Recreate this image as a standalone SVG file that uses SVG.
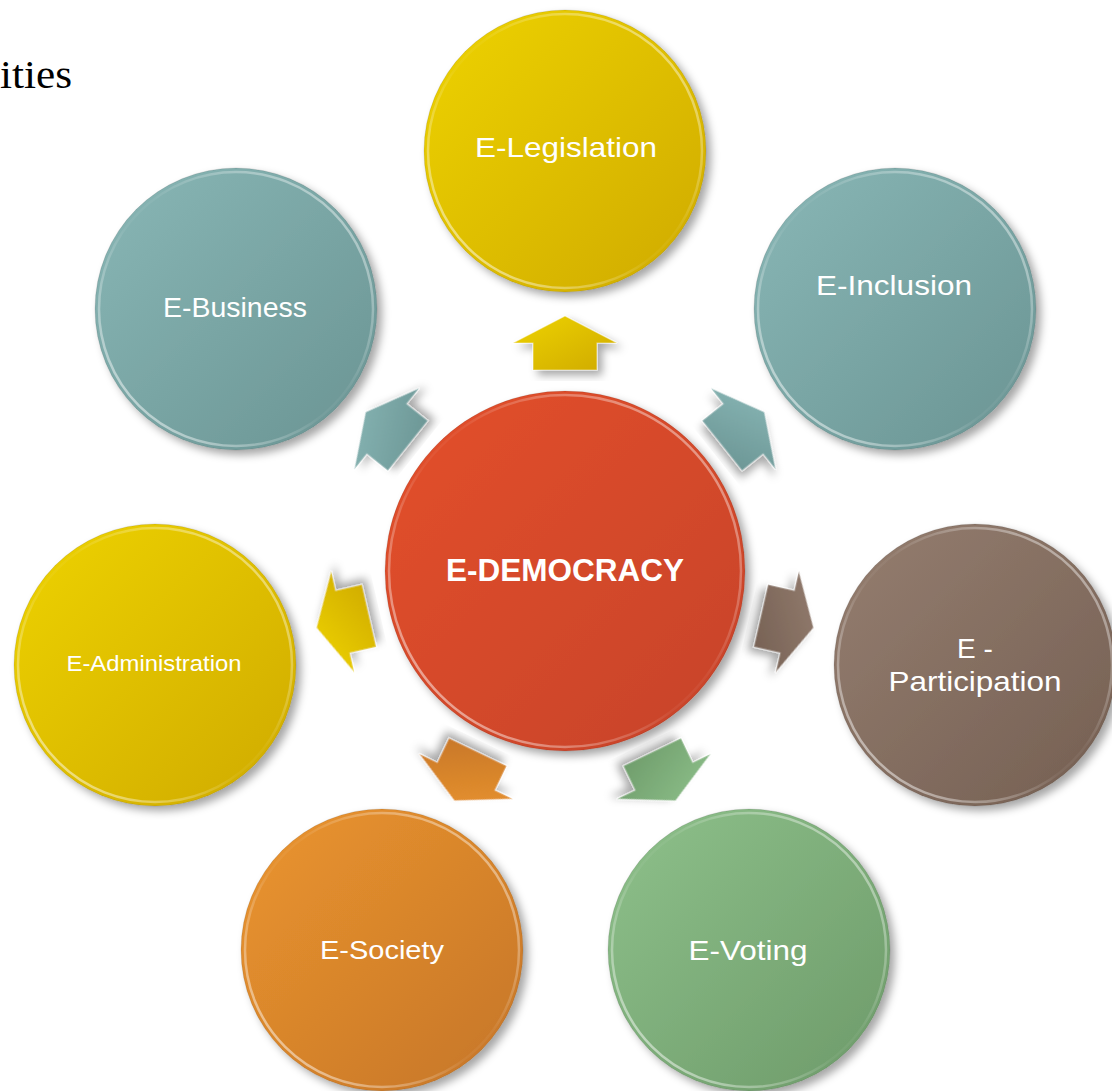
<svg xmlns="http://www.w3.org/2000/svg" width="1112" height="1091" viewBox="0 0 1112 1091">
<defs>
<linearGradient id="gY" x1="0" y1="0" x2="1" y2="1"><stop offset="0" stop-color="#eed300"/><stop offset="1" stop-color="#cfaa00"/></linearGradient>
<linearGradient id="gT" x1="0" y1="0" x2="1" y2="1"><stop offset="0" stop-color="#89b7b6"/><stop offset="1" stop-color="#6a9493"/></linearGradient>
<linearGradient id="gB" x1="0" y1="0" x2="1" y2="1"><stop offset="0" stop-color="#957e70"/><stop offset="1" stop-color="#745f52"/></linearGradient>
<linearGradient id="gO" x1="0" y1="0" x2="1" y2="1"><stop offset="0" stop-color="#eb952f"/><stop offset="1" stop-color="#c57528"/></linearGradient>
<linearGradient id="gG" x1="0" y1="0" x2="1" y2="1"><stop offset="0" stop-color="#8ec18b"/><stop offset="1" stop-color="#6d9a69"/></linearGradient>
<linearGradient id="gR" x1="0" y1="0" x2="1" y2="1"><stop offset="0" stop-color="#e4502c"/><stop offset="1" stop-color="#c64229"/></linearGradient>
<linearGradient id="rim" x1="0" y1="1" x2="1" y2="0"><stop offset="0" stop-color="#ffffff" stop-opacity="0.7"/><stop offset="0.45" stop-color="#ffffff" stop-opacity="0.05"/><stop offset="0.55" stop-color="#ffffff" stop-opacity="0.05"/><stop offset="1" stop-color="#ffffff" stop-opacity="0.6"/></linearGradient>
<filter id="sh" x="-20%" y="-20%" width="140%" height="140%"><feDropShadow dx="5" dy="5" stdDeviation="4" flood-color="#000" flood-opacity="0.35"/></filter>
</defs>
<style>
.lbl{font-family:"Liberation Sans",Arial,sans-serif;fill:#ffffff;text-anchor:middle;font-size:28px}
.rim{fill:none;stroke:url(#rim);stroke-width:2.5}
.edge{fill:none;stroke:#000;stroke-opacity:0.1;stroke-width:1}
.arr{filter:url(#sh);stroke:#ffffff;stroke-opacity:0.45;stroke-width:1.2;stroke-linejoin:miter}
</style>
<text x="0" y="88" font-family="'Liberation Serif',Cambria,serif" font-size="40" fill="#000" textLength="72" lengthAdjust="spacingAndGlyphs">ities</text>
<g id="connectors">
<path class="arr" fill="url(#gY)" d="M565,316 L617,343 L597,343 L597,370 L533,370 L533,343 L513,343 Z"/>
<path class="arr" fill="url(#gT)" transform="rotate(51.43 565 571)" d="M565,316 L617,343 L597,343 L597,370 L533,370 L533,343 L513,343 Z"/>
<path class="arr" fill="url(#gB)" transform="rotate(102.86 565 571)" d="M565,316 L617,343 L597,343 L597,370 L533,370 L533,343 L513,343 Z"/>
<path class="arr" fill="url(#gG)" transform="rotate(154.29 565 571)" d="M565,316 L617,343 L597,343 L597,370 L533,370 L533,343 L513,343 Z"/>
<path class="arr" fill="url(#gO)" transform="rotate(205.71 565 571)" d="M565,316 L617,343 L597,343 L597,370 L533,370 L533,343 L513,343 Z"/>
<path class="arr" fill="url(#gY)" transform="rotate(257.14 565 571)" d="M565,316 L617,343 L597,343 L597,370 L533,370 L533,343 L513,343 Z"/>
<path class="arr" fill="url(#gT)" transform="rotate(308.57 565 571)" d="M565,316 L617,343 L597,343 L597,370 L533,370 L533,343 L513,343 Z"/>
</g>
<g id="node-center">
<circle cx="565" cy="571" r="180" fill="url(#gR)" filter="url(#sh)"/>
<circle cx="565" cy="571" r="176" class="rim"/>
<circle cx="565" cy="571" r="180" class="edge"/>
<text x="565" y="581" class="lbl" style="font-weight:bold;font-size:31px" textLength="238" lengthAdjust="spacingAndGlyphs">E-DEMOCRACY</text>
</g>
<g id="node-legislation">
<circle cx="565" cy="151" r="141" fill="url(#gY)" filter="url(#sh)"/>
<circle cx="565" cy="151" r="137" class="rim"/>
<circle cx="565" cy="151" r="141" class="edge"/>
<text x="566" y="157" class="lbl" textLength="182" lengthAdjust="spacingAndGlyphs">E-Legislation</text>
</g>
<g id="node-inclusion">
<circle cx="895" cy="309" r="141" fill="url(#gT)" filter="url(#sh)"/>
<circle cx="895" cy="309" r="137" class="rim"/>
<circle cx="895" cy="309" r="141" class="edge"/>
<text x="894" y="295" class="lbl" textLength="156" lengthAdjust="spacingAndGlyphs">E-Inclusion</text>
</g>
<g id="node-participation">
<circle cx="975" cy="665" r="141" fill="url(#gB)" filter="url(#sh)"/>
<circle cx="975" cy="665" r="137" class="rim"/>
<circle cx="975" cy="665" r="141" class="edge"/>
<text x="975" y="658" class="lbl">E -</text>
<text x="975" y="691" class="lbl" textLength="173" lengthAdjust="spacingAndGlyphs">Participation</text>
</g>
<g id="node-voting">
<circle cx="749" cy="950" r="141" fill="url(#gG)" filter="url(#sh)"/>
<circle cx="749" cy="950" r="137" class="rim"/>
<circle cx="749" cy="950" r="141" class="edge"/>
<text x="748" y="960" class="lbl" textLength="119" lengthAdjust="spacingAndGlyphs">E-Voting</text>
</g>
<g id="node-society">
<circle cx="382" cy="950" r="141" fill="url(#gO)" filter="url(#sh)"/>
<circle cx="382" cy="950" r="137" class="rim"/>
<circle cx="382" cy="950" r="141" class="edge"/>
<text x="382" y="959" class="lbl" style="font-size:26px" textLength="124" lengthAdjust="spacingAndGlyphs">E-Society</text>
</g>
<g id="node-administration">
<circle cx="155" cy="665" r="141" fill="url(#gY)" filter="url(#sh)"/>
<circle cx="155" cy="665" r="137" class="rim"/>
<circle cx="155" cy="665" r="141" class="edge"/>
<text x="154" y="671" class="lbl" style="font-size:22px" textLength="175" lengthAdjust="spacingAndGlyphs">E-Administration</text>
</g>
<g id="node-business">
<circle cx="236" cy="309" r="141" fill="url(#gT)" filter="url(#sh)"/>
<circle cx="236" cy="309" r="137" class="rim"/>
<circle cx="236" cy="309" r="141" class="edge"/>
<text x="235" y="317" class="lbl" textLength="144" lengthAdjust="spacingAndGlyphs">E-Business</text>
</g>
</svg>
